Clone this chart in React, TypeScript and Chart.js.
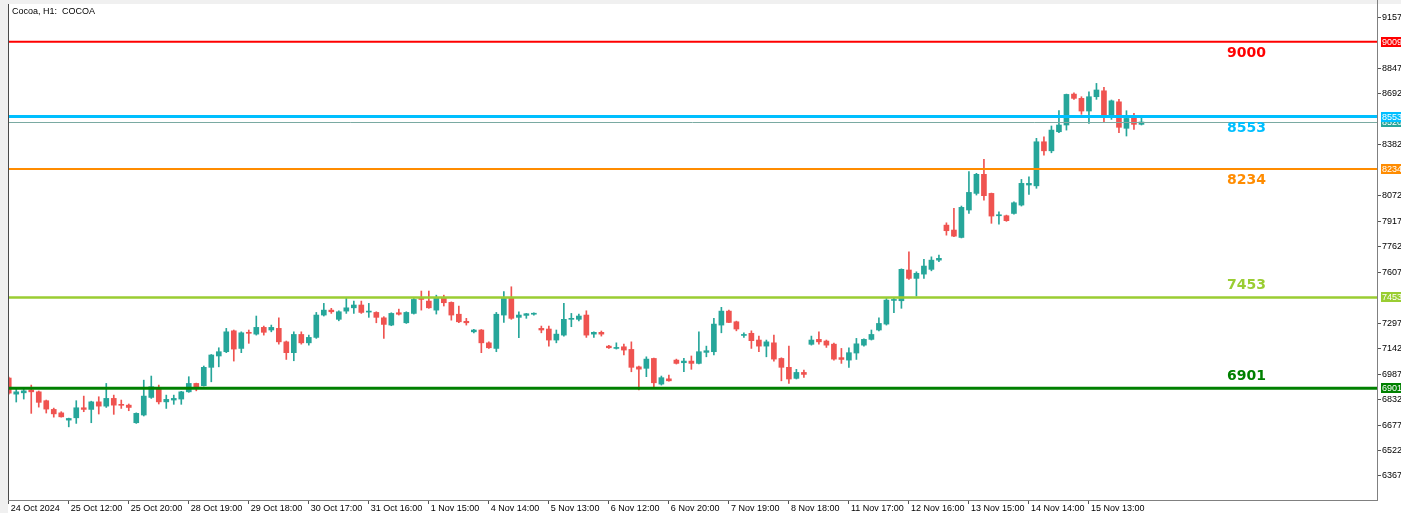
import React, { useEffect, useRef } from 'react';
import { Chart, registerables } from 'chart.js';

Chart.register(...registerables);

const symbolTitle = 'Cocoa, H1:  COCOA';

const timeLabels = [
  '24 Oct 2024', '25 Oct 12:00', '25 Oct 20:00', '28 Oct 19:00', '29 Oct 18:00',
  '30 Oct 17:00', '31 Oct 16:00', '1 Nov 15:00', '4 Nov 14:00', '5 Nov 13:00',
  '6 Nov 12:00', '6 Nov 20:00', '7 Nov 19:00', '8 Nov 18:00', '11 Nov 17:00',
  '12 Nov 16:00', '13 Nov 15:00', '14 Nov 14:00', '15 Nov 13:00',
];
const barsPerTimeLabel = 8;

const priceTicks = [9157, 8847, 8692, 8382, 8072, 7917, 7762, 7607, 7297, 7142, 6987, 6832, 6677, 6522, 6367];

const openPrices = [
  6963, 6865, 6873, 6890, 6879, 6825, 6772, 6751, 6707, 6721,
  6782, 6772, 6818, 6792, 6839, 6803, 6798, 6691, 6738, 6845,
  6900, 6818, 6829, 6835, 6879, 6930, 6916, 7028, 7097, 7123,
  7250, 7143, 7241, 7230, 7271, 7255, 7265, 7183, 7117, 7228,
  7177, 7210, 7346, 7376, 7320, 7370, 7390, 7407, 7364, 7362,
  7329, 7285, 7360, 7299, 7356, 7447, 7431, 7376, 7451, 7423,
  7351, 7308, 7244, 7255, 7177, 7143, 7346, 7451, 7332, 7344,
  7351, 7265, 7261, 7194, 7224, 7320, 7320, 7346, 7230, 7241,
  7157, 7143, 7153, 7137, 7031, 7022, 7082, 6926, 6958, 7072,
  7056, 7066, 7052, 7119, 7123, 7285, 7370, 7305, 7222, 7235,
  7194, 7157, 7177, 7082, 7028, 6961, 6997, 7168, 7198, 7188,
  7169, 7087, 7072, 7115, 7163, 7198, 7255, 7291, 7435, 7433,
  7620, 7569, 7595, 7624, 7680, 7893, 7863, 7818, 7985, 8086,
  8202, 8086, 7950, 7950, 7964, 8015, 8137, 8132, 8400, 8345,
  8461, 8502, 8690, 8664, 8587, 8674, 8710, 8562, 8643, 8482,
  8548, 8506,
];
const highPrices = [
  6969, 6902, 6902, 6920, 6884, 6829, 6780, 6758, 6719, 6825,
  6853, 6822, 6849, 6930, 6859, 6829, 6805, 6751, 6950, 6975,
  6920, 6859, 6859, 6882, 6971, 6932, 7036, 7106, 7147, 7265,
  7255, 7244, 7255, 7340, 7279, 7285, 7329, 7188, 7244, 7244,
  7224, 7362, 7417, 7387, 7372, 7454, 7431, 7431, 7417, 7366,
  7336, 7360, 7382, 7366, 7447, 7492, 7492, 7467, 7467, 7426,
  7401, 7326, 7259, 7258, 7183, 7362, 7488, 7518, 7366, 7356,
  7360, 7279, 7279, 7255, 7417, 7356, 7352, 7372, 7244, 7249,
  7162, 7177, 7169, 7183, 7036, 7092, 7085, 6975, 6981, 7078,
  7082, 7097, 7244, 7157, 7326, 7393, 7376, 7309, 7238, 7250,
  7218, 7194, 7224, 7086, 7157, 7016, 7011, 7218, 7244, 7194,
  7176, 7143, 7147, 7204, 7202, 7255, 7329, 7447, 7447, 7627,
  7731, 7609, 7685, 7700, 7711, 7907, 7995, 8009, 8218, 8208,
  8293, 8088, 7974, 7954, 8035, 8171, 8187, 8421, 8430, 8496,
  8589, 8690, 8698, 8674, 8704, 8755, 8731, 8654, 8658, 8589,
  8573, 8552,
];
const lowPrices = [
  6865, 6817, 6835, 6748, 6786, 6750, 6725, 6725, 6666, 6687,
  6758, 6691, 6744, 6784, 6742, 6778, 6764, 6687, 6732, 6839,
  6805, 6778, 6803, 6803, 6876, 6885, 6914, 6940, 7031, 7117,
  7066, 7117, 7174, 7224, 7224, 7244, 7169, 7076, 7068, 7169,
  7163, 7204, 7340, 7356, 7311, 7356, 7356, 7356, 7332, 7299,
  7204, 7281, 7346, 7295, 7352, 7376, 7387, 7352, 7401, 7315,
  7299, 7285, 7238, 7117, 7143, 7123, 7301, 7320, 7208, 7326,
  7346, 7238, 7157, 7177, 7218, 7275, 7311, 7210, 7210, 7218,
  7143, 7139, 7103, 7001, 6890, 6971, 6910, 6920, 6944, 7048,
  7001, 7016, 7048, 7092, 7103, 7238, 7299, 7250, 7210, 7143,
  7123, 7092, 7066, 6946, 6930, 6957, 6967, 7163, 7169, 7149,
  7072, 7052, 7028, 7076, 7157, 7194, 7249, 7285, 7360, 7387,
  7563, 7461, 7569, 7615, 7670, 7832, 7822, 7815, 7964, 8076,
  8045, 7904, 7899, 7916, 7960, 8009, 8080, 8117, 8319, 8333,
  8455, 8471, 8658, 8567, 8512, 8658, 8516, 8536, 8455, 8435,
  8475, 8502,
];
const closePrices = [
  6871, 6879, 6885, 6879, 6815, 6774, 6745, 6727, 6717, 6782,
  6772, 6818, 6792, 6839, 6798, 6797, 6784, 6748, 6853, 6910,
  6818, 6833, 6839, 6879, 6930, 6910, 7028, 7103, 7123, 7244,
  7139, 7238, 7235, 7271, 7241, 7271, 7183, 7117, 7228, 7177,
  7210, 7346, 7376, 7366, 7366, 7390, 7407, 7362, 7368, 7332,
  7289, 7356, 7351, 7362, 7441, 7441, 7390, 7451, 7421, 7346,
  7305, 7299, 7255, 7177, 7147, 7351, 7447, 7326, 7346, 7354,
  7356, 7255, 7194, 7230, 7320, 7326, 7340, 7224, 7241, 7230,
  7147, 7147, 7133, 7028, 7017, 7078, 6934, 6965, 6946, 7052,
  7066, 7052, 7123, 7129, 7291, 7370, 7301, 7261, 7226, 7190,
  7157, 7183, 7078, 7028, 6957, 6997, 6985, 7194, 7183, 7163,
  7078, 7076, 7117, 7171, 7198, 7228, 7295, 7437, 7439, 7624,
  7569, 7600, 7644, 7680, 7691, 7859, 7826, 8001, 8092, 8202,
  8072, 7948, 7954, 7920, 8029, 8147, 8147, 8400, 8345, 8471,
  8502, 8688, 8664, 8587, 8674, 8715, 8562, 8649, 8488, 8542,
  8506, 8520,
];

const levelPrices = [9009, 8553, 8234, 7453, 6901];
const levelTexts = ['9000', '8553', '8234', '7453', '6901'];
const bidPrice = 8520;

// styles
const levelColors = ['#ff0000', '#00bfff', '#ff8c00', '#9acd32', '#008000'];
const levelWidths = [2, 3, 2, 2.5, 3];
const levelTextBelow = [true, true, true, false, false];
const levelTextBar = 165;
const bullColor = '#26a69a';
const bearColor = '#ef5350';
const bidLineColor = '#7aaaa2';
const bidBoxColor = '#26a69a';
const axisFont = 'Liberation Sans';

const candleColors = openPrices.map((o, i) => (closePrices[i] >= o ? bullColor : bearColor));

const decorPlugin = {
  id: 'mtDecor',
  beforeDraw(chart: any) {
    const { ctx, width, height } = chart;
    ctx.save();
    ctx.fillStyle = '#ffffff';
    ctx.fillRect(0, 0, width, height);
    ctx.fillStyle = '#f0f0f0';
    ctx.fillRect(0, 0, 8, height);
    ctx.fillRect(0, 0, width, 4);
    ctx.restore();
  },
  afterDatasetsDraw(chart: any) {
    const { ctx, chartArea: a, scales } = chart;
    const ys = scales.y;
    const xs = scales.x;
    ctx.save();
    ctx.beginPath();
    ctx.rect(a.left, a.top, a.right - a.left, a.bottom - a.top);
    ctx.clip();
    // bid line
    const yb = Math.round(ys.getPixelForValue(bidPrice)) + 0.5;
    ctx.strokeStyle = bidLineColor;
    ctx.lineWidth = 1;
    ctx.beginPath();
    ctx.moveTo(a.left, yb);
    ctx.lineTo(a.right, yb);
    ctx.stroke();
    levelPrices.forEach((p, i) => {
      const yy = ys.getPixelForValue(p);
      ctx.strokeStyle = levelColors[i];
      ctx.lineWidth = levelWidths[i];
      ctx.beginPath();
      ctx.moveTo(a.left, yy);
      ctx.lineTo(a.right, yy);
      ctx.stroke();
      ctx.fillStyle = levelColors[i];
      ctx.font = 'bold 14px "DejaVu Sans"';
      ctx.textAlign = 'center';
      ctx.textBaseline = 'middle';
      const ty = yy + (levelTextBelow[i] ? 11.5 : -12);
      ctx.fillText(levelTexts[i], xs.getPixelForValue(levelTextBar), ty);
    });
    ctx.restore();
  },
  afterDraw(chart: any) {
    const { ctx, chartArea: a, scales } = chart;
    const ys = scales.y;
    ctx.save();
    // frame
    ctx.lineWidth = 1;
    ctx.strokeStyle = '#4a4a4a';
    ctx.beginPath();
    ctx.moveTo(a.left + 0.5, 4);
    ctx.lineTo(a.left + 0.5, a.bottom);
    ctx.stroke();
    ctx.strokeStyle = '#808080';
    ctx.beginPath();
    ctx.moveTo(a.left, a.bottom + 0.5);
    ctx.lineTo(a.right + 0.5, a.bottom + 0.5);
    ctx.moveTo(a.right + 0.5, 0);
    ctx.lineTo(a.right + 0.5, a.bottom + 1);
    ctx.stroke();
    // title
    ctx.fillStyle = '#000000';
    ctx.font = `9px "${axisFont}"`;
    ctx.textAlign = 'left';
    ctx.textBaseline = 'middle';
    ctx.fillText(symbolTitle, a.left + 4, 12);
    // price boxes on the axis
    const drawBox = (price: number, label: string, color: string) => {
      const yy = Math.round(ys.getPixelForValue(price));
      ctx.fillStyle = color;
      ctx.fillRect(a.right + 4, yy - 5, 30, 10);
      ctx.fillStyle = '#ffffff';
      ctx.font = `9px "${axisFont}"`;
      ctx.textAlign = 'left';
      ctx.textBaseline = 'middle';
      ctx.fillText(label, a.right + 5, yy + 0.5);
    };
    drawBox(bidPrice, String(bidPrice), bidBoxColor);
    levelPrices.forEach((p, i) => drawBox(p, String(p), levelColors[i]));
    ctx.restore();
  },
};

export default function App() {
  const ref = useRef<HTMLCanvasElement>(null);
  useEffect(() => {
    const bodies = openPrices.map((o, i) => ({ x: i, y: [o, closePrices[i]] }));
    const wicks = lowPrices.map((l, i) => ({ x: i, y: [l, highPrices[i]] }));
    const chart = new Chart(ref.current as HTMLCanvasElement, {
      type: 'bar',
      data: {
        datasets: [
          {
            data: bodies as any,
            backgroundColor: candleColors,
            barThickness: 5,
            minBarLength: 1,
            grouped: false,
            borderWidth: 0,
          } as any,
          {
            data: wicks as any,
            backgroundColor: candleColors,
            barThickness: 1,
            grouped: false,
            borderWidth: 0,
          } as any,
        ],
      },
      options: {
        responsive: false,
        animation: false,
        devicePixelRatio: 1,
        layout: { padding: { left: 8, top: 4, right: 0, bottom: 0 } },
        plugins: {
          legend: { display: false },
          tooltip: { enabled: false },
          title: { display: false },
        },
        scales: {
          x: {
            type: 'linear',
            min: -0.1,
            max: 182.4,
            offset: false,
            grid: { display: true, drawOnChartArea: false, drawTicks: true, tickLength: 4, color: '#555555', offset: false },
            border: { display: false },
            ticks: {
              autoSkip: false,
              maxRotation: 0,
              minRotation: 0,
              align: 'start',
              padding: -1,
              labelOffset: 2,
              color: '#000000',
              font: { family: axisFont, size: 9 },
              callback: (v: any) => timeLabels[Math.round(Number(v) / barsPerTimeLabel)] ?? '',
            },
            afterBuildTicks: (s: any) => {
              s.ticks = timeLabels.map((_, k) => ({ value: k * barsPerTimeLabel }));
            },
            afterFit: (s: any) => {
              s.height = 13;
              s.paddingLeft = 0;
              s.paddingRight = 0;
            },
          } as any,
          y: {
            type: 'linear',
            position: 'right',
            min: 6221,
            max: 9238,
            grid: { drawOnChartArea: false, drawTicks: true, tickLength: 4, color: '#555555' },
            border: { display: false },
            ticks: {
              autoSkip: false,
              padding: 1,
              color: '#000000',
              font: { family: axisFont, size: 9 },
              callback: (v: any) => String(v),
            },
            afterBuildTicks: (s: any) => {
              s.ticks = priceTicks.map((v) => ({ value: v }));
            },
            afterFit: (s: any) => {
              s.width = 24;
              s.paddingTop = 0;
              s.paddingBottom = 0;
            },
          } as any,
        },
      } as any,
      plugins: [decorPlugin],
    });
    return () => chart.destroy();
  }, []);
  return (
    <canvas
      ref={ref}
      width={1401}
      height={513}
      style={{ position: 'fixed', left: 0, top: 0, width: 1401, height: 513, display: 'block' }}
    />
  );
}
